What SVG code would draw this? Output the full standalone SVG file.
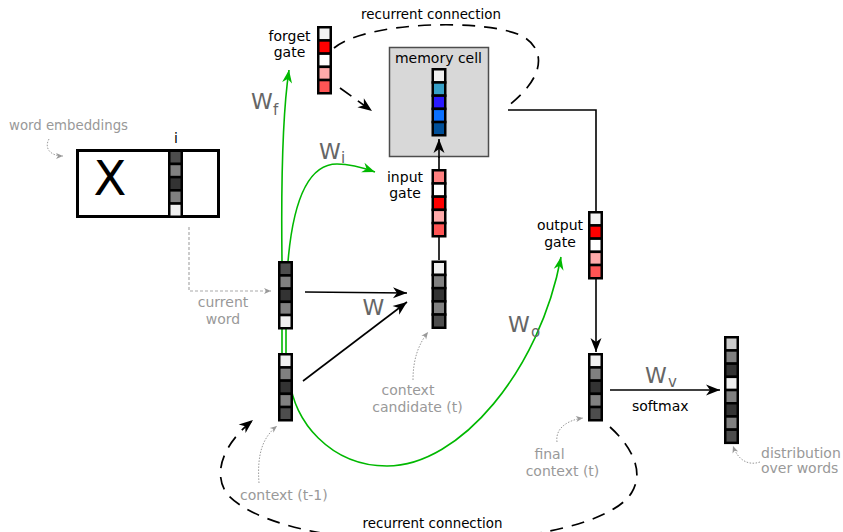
<svg xmlns="http://www.w3.org/2000/svg" width="843" height="532" viewBox="0 0 843 532">
<style>
text{font-family:"DejaVu Sans","Liberation Sans",sans-serif}
.lbl{font-size:14px;fill:#000}
.gry{font-size:14px;fill:#999}
.wl{font-size:22px;fill:#666}
.ws{font-size:15px;fill:#666}
.cell{stroke:#000;stroke-width:2.5}
.blk{fill:none;stroke:#000;stroke-width:1.6}
.grn{fill:none;stroke:#00b800;stroke-width:1.6}
.dsh{fill:none;stroke:#000;stroke-width:1.7;stroke-dasharray:13 9}
.dot{fill:none;stroke:#999;stroke-width:1;stroke-dasharray:1.5 1.5}
.c0{fill:#f0f0f0}.c1{fill:#808080}.c2{fill:#333}.c3{fill:#4d4d4d}.c4{fill:#ccc}
.r0{fill:#f2f2f2}.r1{fill:#ff0000}.r2{fill:#fff}.r3{fill:#ffaaaa}.r4{fill:#ff5555}.r5{fill:#ff8080}
.b1{fill:#37a0c8}.b2{fill:#2a1aff}.b3{fill:#0a70ff}.b4{fill:#004f99}
</style>
<defs>
<marker id="ak" markerUnits="userSpaceOnUse" orient="auto" overflow="visible" markerWidth="1" markerHeight="1"><path d="M0,0 L-14,-5.5 L-10,0 L-14,5.5 Z" fill="#000"/></marker>
<marker id="ag" markerUnits="userSpaceOnUse" orient="auto" overflow="visible" markerWidth="1" markerHeight="1"><path d="M0,0 L-13,-5 L-9,0 L-13,5 Z" fill="#00b800"/></marker>
<marker id="ay" markerUnits="userSpaceOnUse" orient="auto" overflow="visible" markerWidth="1" markerHeight="1"><path d="M0,0 L-7,-3 L-5,0 L-7,3 Z" fill="#999"/></marker>
</defs>
<rect width="843" height="532" fill="#fff"/>

<g id="connectors">
<path class="grn" d="M282,360 L282,261 C281,180 283,110 289,70" marker-end="url(#ag)"/>
<path class="grn" d="M286,360 L286,300 C288,210 305,164 337,164 C352,164 364,168 375,172" marker-end="url(#ag)"/>
<path class="grn" d="M290,380 C293,420 330,466 387,466 C460,466 540,370 561,257" marker-end="url(#ag)"/>
<path class="blk" d="M305,292 L407,293" marker-end="url(#ak)"/>
<path class="blk" d="M303,381 L407,302" marker-end="url(#ak)"/>
<path class="blk" d="M439,260 L439,237"/>
<path class="blk" d="M439,169 L439,139" marker-end="url(#ak)"/>
<path class="blk" d="M508,110 L596,110 L596,211"/>
<path class="blk" d="M596,279 L596,352" marker-end="url(#ak)"/>
<path class="blk" d="M610,390 L720,390" marker-end="url(#ak)"/>
<path class="dsh" d="M334,48 C365,22 480,18 520,35 C545,47 548,75 508,106"/>
<path class="dsh" d="M340,88 L372,111" marker-end="url(#ak)" style="stroke-dasharray:14 8"/>
<path class="dsh" d="M610,427 C630,445 645,470 632,492 C615,522 530,542 430,542 C335,542 255,524 228,495 C212,475 222,445 253,420" marker-end="url(#ak)"/>
<path fill="none" stroke="#aaa" stroke-width="1.2" stroke-dasharray="3 2" d="M189,227 L189,291 L271,291" marker-end="url(#ay)"/>
<path class="dot" d="M49,139 C44,148 50,156 63,156" marker-end="url(#ay)"/>
<path class="dot" d="M259,483 C257,455 262,438 277,426" marker-end="url(#ay)"/>
<path class="dot" d="M413,380 C413,360 418,345 428,332" marker-end="url(#ay)"/>
<path class="dot" d="M557,442 C555,428 568,420 583,418" marker-end="url(#ay)"/>
<path class="dot" d="M760,462 C748,466 738,460 733,446" marker-end="url(#ay)"/>
</g>

<g id="labels">
<text class="lbl" x="431" y="19" text-anchor="middle" style="font-size:13.4px">recurrent connection</text>
<rect x="354" y="514" width="156" height="18" fill="#fff"/>
<text class="lbl" x="432.5" y="527.5" text-anchor="middle" style="font-size:13.4px">recurrent connection</text>
<text class="wl" x="362.5" y="315">W</text>
<text class="wl" x="251" y="109">W</text><text class="ws" x="273" y="115">f</text>
<text class="wl" x="319" y="159">W</text><text class="ws" x="341" y="163">i</text>
<text class="wl" x="508" y="331.5">W</text><text class="ws" x="531" y="337">o</text>
<text class="wl" x="645" y="382.5">W</text><text class="ws" x="668" y="387">v</text>
<text class="lbl" x="632" y="410.5">softmax</text>
</g>

<g id="embeddings">
<text class="gry" x="9" y="130" style="font-size:13.3px">word embeddings</text>
<rect x="77.5" y="150.5" width="141" height="66" fill="#fff" stroke="#000" stroke-width="3"/>
<text x="110" y="195" text-anchor="middle" style="font-size:48px" fill="#000">X</text>
<text x="176" y="143" text-anchor="middle" style="font-size:14px" fill="#000">i</text>
<g transform="translate(168,149.5)">
<rect class="cell c3" x="1.25" y="1.25" width="12.5" height="13.2"/>
<rect class="cell c1" x="1.25" y="14.45" width="12.5" height="13.2"/>
<rect class="cell c2" x="1.25" y="27.65" width="12.5" height="13.2"/>
<rect class="cell c1" x="1.25" y="40.85" width="12.5" height="13.2"/>
<rect class="cell c0" x="1.25" y="54.05" width="12.5" height="13.2"/>
</g>
</g>

<g id="current-word">
<g transform="translate(278,261)">
<rect class="cell c3" x="1.25" y="1.25" width="12.5" height="13.2"/>
<rect class="cell c1" x="1.25" y="14.45" width="12.5" height="13.2"/>
<rect class="cell c2" x="1.25" y="27.65" width="12.5" height="13.2"/>
<rect class="cell c1" x="1.25" y="40.85" width="12.5" height="13.2"/>
<rect class="cell c0" x="1.25" y="54.05" width="12.5" height="13.2"/>
</g>
<text class="gry" x="223" y="307" text-anchor="middle">current</text>
<text class="gry" x="223" y="324" text-anchor="middle">word</text>
</g>

<g id="context-prev">
<g transform="translate(278,353)">
<rect class="cell c0" x="1.25" y="1.25" width="12.5" height="13.2"/>
<rect class="cell c1" x="1.25" y="14.45" width="12.5" height="13.2"/>
<rect class="cell c2" x="1.25" y="27.65" width="12.5" height="13.2"/>
<rect class="cell c1" x="1.25" y="40.85" width="12.5" height="13.2"/>
<rect class="cell c3" x="1.25" y="54.05" width="12.5" height="13.2"/>
</g>
<text class="gry" x="240" y="500">context (t-1)</text>
</g>

<g id="forget-gate">
<g transform="translate(317,26)">
<rect class="cell r0" x="1.25" y="1.25" width="12.5" height="13.2"/>
<rect class="cell r1" x="1.25" y="14.45" width="12.5" height="13.2"/>
<rect class="cell r2" x="1.25" y="27.65" width="12.5" height="13.2"/>
<rect class="cell r3" x="1.25" y="40.85" width="12.5" height="13.2"/>
<rect class="cell r4" x="1.25" y="54.05" width="12.5" height="13.2"/>
</g>
<text class="lbl" x="289.5" y="41" text-anchor="middle">forget</text>
<text class="lbl" x="289.5" y="57" text-anchor="middle">gate</text>
</g>

<g id="memory-cell">
<rect x="389.5" y="47.5" width="99" height="109" fill="#d8d8d8" stroke="#4d4d4d" stroke-width="1.5"/>
<text class="lbl" x="438.5" y="63" text-anchor="middle">memory cell</text>
<g transform="translate(431.5,68)">
<rect class="cell c0" x="1.25" y="1.25" width="12.5" height="13.2"/>
<rect class="cell b1" x="1.25" y="14.45" width="12.5" height="13.2"/>
<rect class="cell b2" x="1.25" y="27.65" width="12.5" height="13.2"/>
<rect class="cell b3" x="1.25" y="40.85" width="12.5" height="13.2"/>
<rect class="cell b4" x="1.25" y="54.05" width="12.5" height="13.2"/>
</g>
</g>
<path class="blk" d="M439,158 L439,139" marker-end="url(#ak)"/>

<g id="input-gate">
<g transform="translate(431.5,169)">
<rect class="cell r5" x="1.25" y="1.25" width="12.5" height="13.2"/>
<rect class="cell r2" x="1.25" y="14.45" width="12.5" height="13.2"/>
<rect class="cell r1" x="1.25" y="27.65" width="12.5" height="13.2"/>
<rect class="cell r3" x="1.25" y="40.85" width="12.5" height="13.2"/>
<rect class="cell r4" x="1.25" y="54.05" width="12.5" height="13.2"/>
</g>
<text class="lbl" x="405" y="182" text-anchor="middle">input</text>
<text class="lbl" x="405" y="198" text-anchor="middle">gate</text>
</g>

<g id="context-candidate">
<g transform="translate(431.5,260.5)">
<rect class="cell c0" x="1.25" y="1.25" width="12.5" height="13.2"/>
<rect class="cell c1" x="1.25" y="14.45" width="12.5" height="13.2"/>
<rect class="cell c2" x="1.25" y="27.65" width="12.5" height="13.2"/>
<rect class="cell c1" x="1.25" y="40.85" width="12.5" height="13.2"/>
<rect class="cell c3" x="1.25" y="54.05" width="12.5" height="13.2"/>
</g>
<text class="gry" x="408" y="395" text-anchor="middle">context</text>
<text class="gry" x="417.5" y="411.5" text-anchor="middle">candidate (t)</text>
</g>

<g id="output-gate">
<g transform="translate(588,211)">
<rect class="cell r0" x="1.25" y="1.25" width="12.5" height="13.2"/>
<rect class="cell r1" x="1.25" y="14.45" width="12.5" height="13.2"/>
<rect class="cell r2" x="1.25" y="27.65" width="12.5" height="13.2"/>
<rect class="cell r3" x="1.25" y="40.85" width="12.5" height="13.2"/>
<rect class="cell r4" x="1.25" y="54.05" width="12.5" height="13.2"/>
</g>
<text class="lbl" x="560" y="230" text-anchor="middle">output</text>
<text class="lbl" x="560" y="246.5" text-anchor="middle">gate</text>
</g>

<g id="final-context">
<g transform="translate(588,353)">
<rect class="cell c0" x="1.25" y="1.25" width="12.5" height="13.2"/>
<rect class="cell c1" x="1.25" y="14.45" width="12.5" height="13.2"/>
<rect class="cell c2" x="1.25" y="27.65" width="12.5" height="13.2"/>
<rect class="cell c1" x="1.25" y="40.85" width="12.5" height="13.2"/>
<rect class="cell c3" x="1.25" y="54.05" width="12.5" height="13.2"/>
</g>
<text class="gry" x="549.5" y="459" text-anchor="middle">final</text>
<text class="gry" x="562.5" y="475.5" text-anchor="middle">context (t)</text>
</g>

<g id="distribution">
<g transform="translate(724,336)">
<rect class="cell c4" x="1.25" y="1.25" width="12.5" height="13.2"/>
<rect class="cell c1" x="1.25" y="14.45" width="12.5" height="13.2"/>
<rect class="cell c2" x="1.25" y="27.65" width="12.5" height="13.2"/>
<rect class="cell c0" x="1.25" y="40.85" width="12.5" height="13.2"/>
<rect class="cell c1" x="1.25" y="54.05" width="12.5" height="13.2"/>
<rect class="cell c2" x="1.25" y="67.25" width="12.5" height="13.2"/>
<rect class="cell c1" x="1.25" y="80.45" width="12.5" height="13.2"/>
<rect class="cell c3" x="1.25" y="93.65" width="12.5" height="13.2"/>
</g>
<text class="gry" x="761" y="457.5">distribution</text>
<text class="gry" x="761" y="472.5">over words</text>
</g>
</svg>
